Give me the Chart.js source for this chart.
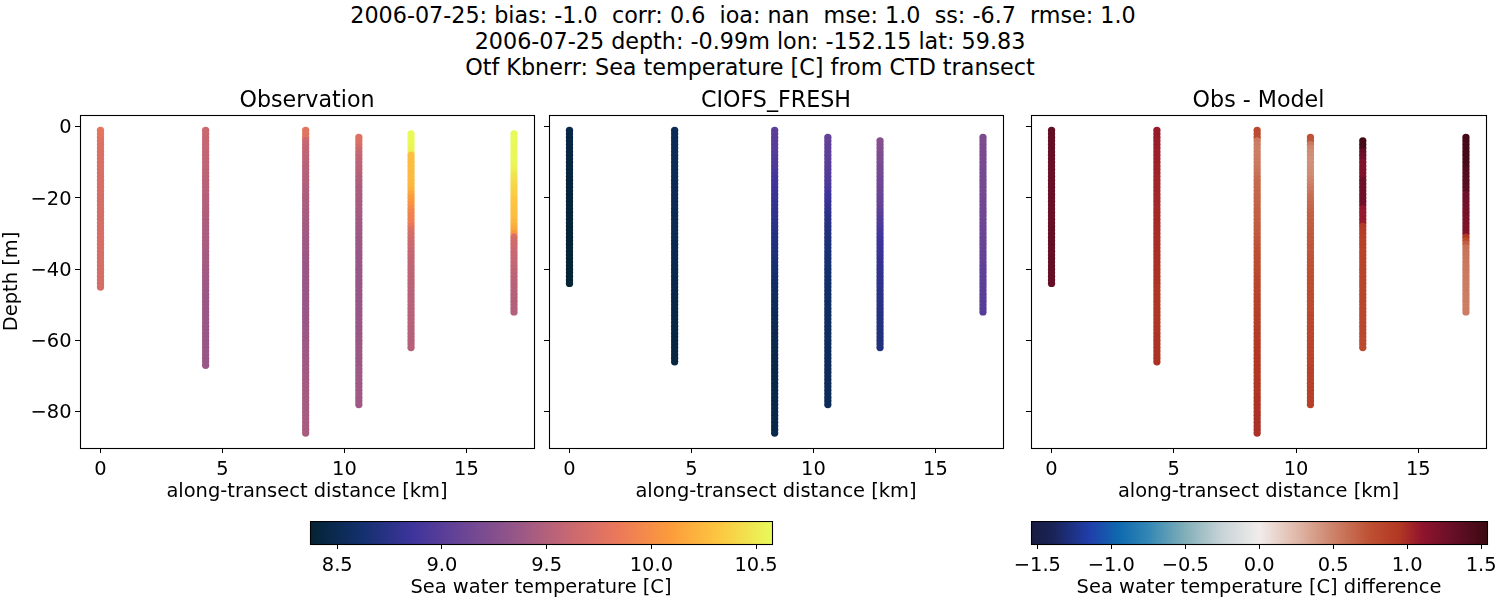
<!DOCTYPE html>
<html><head><meta charset="utf-8">
<script src="https://cdn.jsdelivr.net/npm/chart.js@4/dist/chart.umd.min.js"></script>
<style>
html,body{margin:0;padding:0;background:#fff;width:1500px;height:600px;overflow:hidden}
canvas{position:absolute;display:block}
.line{position:absolute;left:0;width:1500px;text-align:center;font:22.27px "DejaVu Sans";color:#000;white-space:pre;line-height:26px}
</style></head><body>
<div class="line" style="top:2px;left:-7px">2006-07-25: bias: -1.0  corr: 0.6  ioa: nan  mse: 1.0  ss: -6.7  rmse: 1.0</div>
<div class="line" style="top:28px">2006-07-25 depth: -0.99m lon: -152.15 lat: 59.83</div>
<div class="line" style="top:54px">Otf Kbnerr: Sea temperature [C] from CTD transect</div>
<canvas id="c1"></canvas><canvas id="c2"></canvas><canvas id="c3"></canvas><canvas id="c4"></canvas><canvas id="c5"></canvas>
<script>
const panelTitles=["Observation","CIOFS_FRESH","Obs - Model"];
const xAxisLabel="along-transect distance [km]";
const yAxisLabel="Depth [m]";
const tempBarLabel="Sea water temperature [C]";
const diffBarLabel="Sea water temperature [C] difference";
const xTicks=[0,5,10,15];
const yTicks=[0,-20,-40,-60,-80];
const tempTicks=[8.5,9.0,9.5,10.0,10.5];
const diffTicks=[-1.5,-1.0,-0.5,0.0,0.5,1.0,1.5];
const stationKm=[0,4.31,8.41,10.59,12.73,16.95];
const depthLevels=[-1,-2,-3,-4,-5,-6,-7,-8,-9,-10,-11,-12,-13,-14,-15,-16,-17,-18,-19,-20,-21,-22,-23,-24,-25,-26,-27,-28,-29,-30,-31,-32,-33,-34,-35,-36,-37,-38,-39,-40,-41,-42,-43,-44,-45,-46,-47,-48,-49,-50,-51,-52,-53,-54,-55,-56,-57,-58,-59,-60,-61,-62,-63,-64,-65,-66,-67,-68,-69,-70,-71,-72,-73,-74,-75,-76,-77,-78,-79,-80,-81,-82,-83,-84,-85,-86];
const obsFirstLevel=[0,0,0,2,1,1];
const modelFirstLevel=[0,0,0,2,3,2];

const obs0=[9.80,9.80,9.78,9.76,9.75,9.74,9.73,9.73,9.72,9.72,
9.72,9.72,9.72,9.71,9.71,9.71,9.71,9.71,9.71,9.71,
9.70,9.70,9.70,9.70,9.70,9.70,9.70,9.71,9.71,9.71,
9.71,9.71,9.71,9.71,9.71,9.70,9.70,9.70,9.70,9.70,
9.70,9.70,9.70,9.70,9.70];
const obs1=[9.62,9.62,9.61,9.60,9.60,9.59,9.58,9.58,9.57,9.57,
9.56,9.55,9.55,9.54,9.54,9.53,9.53,9.52,9.52,9.51,
9.50,9.50,9.49,9.49,9.48,9.48,9.47,9.47,9.46,9.46,
9.46,9.45,9.45,9.44,9.44,9.43,9.43,9.42,9.42,9.41,
9.41,9.40,9.40,9.39,9.39,9.38,9.38,9.38,9.38,9.37,
9.37,9.37,9.37,9.37,9.36,9.36,9.36,9.36,9.36,9.36,
9.36,9.36,9.36,9.36,9.36,9.36,9.36];
const obs2=[9.78,9.77,9.76,9.62,9.60,9.58,9.57,9.56,9.55,9.54,
9.53,9.52,9.52,9.51,9.50,9.50,9.49,9.48,9.48,9.47,
9.46,9.46,9.45,9.44,9.44,9.43,9.42,9.42,9.41,9.41,
9.40,9.40,9.39,9.39,9.39,9.38,9.38,9.38,9.37,9.37,
9.37,9.37,9.37,9.36,9.36,9.36,9.36,9.36,9.36,9.36,
9.36,9.36,9.37,9.37,9.37,9.37,9.38,9.38,9.38,9.38,
9.39,9.39,9.39,9.40,9.40,9.40,9.40,9.41,9.41,9.41,
9.41,9.42,9.42,9.42,9.42,9.43,9.43,9.43,9.43,9.43,
9.44,9.44,9.44,9.44,9.44,9.44];
const obs3=[9.74,9.74,9.72,9.66,9.62,9.60,9.58,9.56,9.55,9.54,
9.52,9.50,9.49,9.48,9.47,9.46,9.45,9.45,9.44,9.44,
9.43,9.43,9.42,9.41,9.41,9.40,9.40,9.39,9.39,9.38,
9.38,9.38,9.37,9.37,9.37,9.37,9.37,9.36,9.36,9.36,
9.36,9.36,9.36,9.36,9.36,9.36,9.36,9.36,9.36,9.36,
9.37,9.37,9.37,9.37,9.37,9.37,9.37,9.38,9.38,9.38,
9.38,9.38,9.38,9.38,9.38,9.39,9.39,9.39,9.39,9.39,
9.39,9.40,9.40,9.40,9.40,9.40];
const obs4=[10.57,10.57,10.56,10.56,10.55,10.54,10.28,10.27,10.27,10.27,
10.27,10.26,10.26,10.26,10.25,10.24,10.20,10.14,10.10,10.07,
10.03,9.98,9.94,9.92,9.90,9.88,9.82,9.74,9.70,9.68,
9.66,9.63,9.62,9.60,9.59,9.58,9.57,9.57,9.56,9.56,
9.55,9.55,9.54,9.54,9.54,9.53,9.53,9.53,9.53,9.52,
9.52,9.52,9.52,9.52,9.52,9.51,9.51,9.51,9.51,9.51,
9.51];
const obs5=[10.57,10.57,10.57,10.57,10.56,10.56,10.56,10.56,10.56,10.55,
10.53,10.49,10.46,10.44,10.42,10.40,10.38,10.36,10.34,10.32,
10.31,10.30,10.29,10.28,10.26,10.24,10.20,10.15,10.05,9.72,
9.68,9.66,9.64,9.62,9.61,9.60,9.59,9.58,9.57,9.56,
9.55,9.54,9.53,9.52,9.52,9.51,9.51,9.50,9.50,9.50,
9.50];

const model0=[8.45,8.45,8.44,8.44,8.44,8.43,8.43,8.43,8.43,8.42,
8.42,8.42,8.42,8.42,8.41,8.41,8.41,8.41,8.41,8.41,
8.40,8.40,8.40,8.40,8.40,8.40,8.40,8.40,8.39,8.39,
8.39,8.39,8.39,8.39,8.39,8.39,8.38,8.38,8.38,8.38,
8.38,8.38,8.38,8.38];
const model1=[8.52,8.52,8.52,8.52,8.52,8.52,8.52,8.52,8.52,8.52,
8.52,8.52,8.52,8.52,8.52,8.51,8.51,8.51,8.51,8.51,
8.51,8.51,8.51,8.51,8.50,8.50,8.50,8.50,8.50,8.50,
8.50,8.50,8.49,8.49,8.49,8.49,8.49,8.49,8.48,8.48,
8.48,8.48,8.47,8.47,8.47,8.47,8.46,8.46,8.46,8.46,
8.45,8.45,8.45,8.45,8.44,8.44,8.44,8.44,8.43,8.43,
8.43,8.43,8.43,8.43,8.43,8.42];
const model2=[9.02,9.02,9.01,9.01,9.00,9.00,8.99,8.98,8.97,8.96,
8.95,8.94,8.92,8.90,8.88,8.87,8.86,8.85,8.84,8.83,
8.82,8.81,8.80,8.79,8.78,8.77,8.76,8.75,8.74,8.73,
8.72,8.71,8.70,8.69,8.68,8.67,8.66,8.65,8.64,8.63,
8.62,8.61,8.60,8.59,8.58,8.57,8.56,8.55,8.54,8.53,
8.53,8.52,8.52,8.51,8.51,8.50,8.50,8.49,8.49,8.49,
8.48,8.48,8.48,8.48,8.48,8.47,8.47,8.47,8.47,8.47,
8.47,8.47,8.47,8.47,8.47,8.47,8.47,8.47,8.47,8.47,
8.47,8.47,8.47,8.47,8.47,8.47];
const model3=[9.06,9.06,9.05,9.04,9.04,9.03,9.02,9.01,9.00,8.99,
8.98,8.97,8.96,8.95,8.93,8.91,8.87,8.85,8.83,8.81,
8.79,8.77,8.75,8.74,8.73,8.72,8.71,8.70,8.69,8.68,
8.67,8.66,8.66,8.65,8.64,8.63,8.63,8.62,8.61,8.61,
8.60,8.60,8.59,8.59,8.58,8.58,8.58,8.57,8.57,8.57,
8.56,8.56,8.56,8.56,8.55,8.55,8.55,8.55,8.54,8.54,
8.54,8.54,8.54,8.54,8.53,8.53,8.53,8.53,8.53,8.53,
8.53,8.52,8.52,8.52,8.52,8.52];
const model4=[9.26,9.25,9.24,9.23,9.22,9.21,9.20,9.18,9.17,9.16,
9.15,9.14,9.13,9.12,9.11,9.10,9.09,9.08,9.07,9.05,
9.03,9.01,8.99,8.97,8.95,8.92,8.89,8.87,8.86,8.85,
8.84,8.83,8.83,8.82,8.81,8.81,8.80,8.80,8.79,8.78,
8.78,8.77,8.76,8.75,8.75,8.74,8.74,8.73,8.73,8.72,
8.72,8.71,8.71,8.71,8.70,8.70,8.70,8.70,8.70];
const model5=[9.20,9.20,9.20,9.19,9.19,9.19,9.19,9.18,9.18,9.18,
9.18,9.17,9.17,9.17,9.17,9.16,9.16,9.16,9.15,9.15,
9.14,9.14,9.13,9.13,9.12,9.12,9.11,9.11,9.10,9.10,
9.09,9.09,9.08,9.07,9.06,9.06,9.05,9.05,9.04,9.04,
9.03,9.03,9.02,9.02,9.01,9.01,9.00,8.99,8.99,8.98];

const diff0=[1.34,1.34,1.33,1.32,1.32,1.32,1.32,1.31,1.31,1.31,
1.30,1.30,1.30,1.30,1.30,1.30,1.30,1.30,1.30,1.30,
1.30,1.30,1.30,1.30,1.30,1.30,1.30,1.31,1.32,1.32,
1.32,1.32,1.32,1.32,1.32,1.31,1.32,1.32,1.32,1.32,
1.32,1.32,1.32,1.32];
const diff1=[1.07,1.07,1.07,1.06,1.06,1.06,1.05,1.05,1.05,1.05,
1.04,1.04,1.04,1.03,1.03,1.03,1.03,1.03,1.02,1.02,
1.02,1.02,1.01,1.01,1.01,1.01,1.01,1.00,1.00,1.00,
1.00,0.99,0.99,0.99,0.99,0.98,0.98,0.98,0.98,0.97,
0.97,0.97,0.97,0.97,0.96,0.96,0.96,0.96,0.96,0.96,
0.96,0.96,0.96,0.96,0.96,0.96,0.96,0.96,0.97,0.97,
0.97,0.97,0.97,0.97,0.97,0.97];
const diff2=[0.80,0.79,0.78,0.55,0.53,0.52,0.52,0.52,0.53,0.54,
0.55,0.56,0.58,0.60,0.62,0.63,0.63,0.64,0.64,0.65,
0.65,0.66,0.66,0.67,0.67,0.68,0.68,0.69,0.69,0.70,
0.71,0.72,0.73,0.74,0.75,0.76,0.77,0.78,0.78,0.79,
0.80,0.81,0.82,0.82,0.83,0.84,0.85,0.86,0.87,0.87,
0.88,0.88,0.89,0.89,0.90,0.90,0.91,0.92,0.92,0.92,
0.93,0.93,0.94,0.94,0.94,0.95,0.95,0.95,0.95,0.95,
0.95,0.96,0.96,0.96,0.96,0.97,0.97,0.97,0.97,0.97,
0.98,0.98,0.98,0.98,0.98,0.98];
const diff3=[0.74,0.72,0.54,0.48,0.46,0.45,0.44,0.44,0.44,0.45,
0.45,0.46,0.48,0.50,0.53,0.55,0.58,0.60,0.61,0.63,
0.64,0.66,0.67,0.67,0.68,0.68,0.69,0.69,0.70,0.70,
0.71,0.72,0.71,0.72,0.73,0.74,0.74,0.74,0.75,0.75,
0.76,0.76,0.77,0.77,0.78,0.78,0.78,0.79,0.79,0.79,
0.81,0.81,0.81,0.81,0.82,0.82,0.82,0.83,0.84,0.84,
0.84,0.84,0.84,0.84,0.85,0.86,0.86,0.86,0.86,0.86,
0.86,0.88,0.88,0.88,0.88,0.88];
const diff4=[1.50,1.50,1.48,1.33,1.30,1.26,1.19,1.18,1.18,1.18,
1.18,1.27,1.28,1.28,1.27,1.27,1.26,1.26,1.25,1.09,
1.08,1.08,1.08,1.07,0.93,0.91,0.90,0.88,0.87,0.86,
0.86,0.85,0.85,0.85,0.85,0.84,0.84,0.84,0.84,0.84,
0.83,0.83,0.83,0.83,0.83,0.83,0.83,0.82,0.82,0.82,
0.82,0.81,0.81,0.81,0.81,0.81,0.80,0.80,0.80];
const diff5=[1.50,1.50,1.50,1.50,1.50,1.50,1.50,1.49,1.48,1.43,
1.42,1.41,1.40,1.40,1.39,1.38,1.27,1.27,1.26,1.25,
1.24,1.23,1.23,1.22,1.21,1.20,1.20,1.18,0.95,0.80,
0.68,0.58,0.57,0.57,0.56,0.56,0.55,0.55,0.54,0.54,
0.54,0.53,0.53,0.53,0.52,0.52,0.52,0.52,0.52,0.52];

const tempStopValues=[8.37,8.615,8.86,9.105,9.35,9.596,9.84,10.086,10.33,10.576];
const tempStopColors=[[4,35,51],[19,48,109],[62,52,156],[107,69,150],[150,86,136],[198,103,115],[235,120,90],[252,155,60],[252,200,65],[232,250,91]];
const diffStopValues=[-1.543,-1.4,-1.15,-0.95,-0.75,-0.5,-0.25,0,0.25,0.5,0.75,0.95,1.1,1.3,1.54];
const diffStopColors=[[24,28,67],[26,35,85],[32,62,170],[15,105,175],[50,135,180],[130,175,185],[200,212,215],[241,236,235],[224,185,170],[205,130,105],[190,80,50],[178,55,35],[145,20,45],[105,15,40],[60,9,18]];

const FONT='"DejaVu Sans"';
Chart.defaults.font.family=FONT;
Chart.defaults.color='#000';
Chart.defaults.animation=false;
Chart.defaults.responsive=false;
Chart.defaults.devicePixelRatio=1;

function colorFor(v,vals,cols){
  if(v<=vals[0])return `rgb(${cols[0]})`;
  for(let i=1;i<vals.length;i++){
    if(v<=vals[i]){
      const t=(v-vals[i-1])/(vals[i]-vals[i-1]);
      const c=cols[i-1].map((a,k)=>Math.round(a+(cols[i][k]-a)*t));
      return `rgb(${c})`;
    }
  }
  return `rgb(${cols[cols.length-1]})`;
}
const minus=s=>String(s).replace('-','\u2212');
const frame={id:'frame',afterDatasetsDraw(ch){
  const a=ch.chartArea,c=ch.ctx;c.save();c.strokeStyle='#000';c.lineWidth=1.1;
  c.strokeRect(Math.round(a.left)+.5,Math.round(a.top)+.5,Math.round(a.width),Math.round(a.height));c.restore();
}};
function place(id,l,t,w,h){const e=document.getElementById(id);e.width=w;e.height=h;e.style.left=l+'px';e.style.top=t+'px';return e;}

function panelPoints(series,first,cmapV,cmapC){
  return series.map((vals,s)=>({
    data:vals.map((v,i)=>({x:stationKm[s],y:depthLevels[first[s]+i]})),
    backgroundColor:vals.map(v=>colorFor(v,cmapV,cmapC)),
    pointRadius:3.65,pointBorderWidth:0,showLine:false
  }));
}
function panel(id,l,w,sideW,title,series,first,cmapV,cmapC,showY){
  const cv=place(id,l,86,w,418);
  new Chart(cv,{type:'scatter',
    data:{datasets:panelPoints(series,first,cmapV,cmapC)},
    plugins:[frame],
    options:{
      layout:{padding:0},
      plugins:{legend:{display:false},tooltip:{enabled:false},
        title:{display:true,text:title,color:'#000',font:{size:22.2,weight:'normal',family:FONT,lineHeight:1.2},padding:{top:2,bottom:0.33}}},
      scales:{
        x:{type:'linear',min:-0.84,max:17.77,
          afterBuildTicks:s=>{s.ticks=xTicks.map(v=>({value:v}))},
          afterFit:s=>{s.height=56},
          grid:{drawOnChartArea:false,drawTicks:true,tickLength:5,color:'#000',lineWidth:1},
          border:{display:false},
          ticks:{font:{size:19.44,family:FONT},color:'#000',padding:5,maxRotation:0,autoSkip:false,callback:v=>minus(v)},
          title:{display:true,text:xAxisLabel,color:'#000',font:{size:19.44,family:FONT,lineHeight:1.2},padding:0}},
        y:{type:'linear',position:'left',min:-90.2,max:3.3,
          afterBuildTicks:s=>{s.ticks=yTicks.map(v=>({value:v}))},
          afterFit:s=>{s.width=sideW},
          grid:{drawOnChartArea:false,drawTicks:true,tickLength:5,color:'#000',lineWidth:1},
          border:{display:false},
          ticks:{display:showY,font:{size:19.44,family:FONT},color:'#000',padding:3.5,labelOffset:1.5,autoSkip:false,callback:v=>minus(v)},
          title:{display:showY,text:yAxisLabel,color:'#000',font:{size:19.44,family:FONT,lineHeight:1.2},padding:{top:0,bottom:0}}},
        spacer:{type:'linear',position:'right',min:0,max:1,
          afterBuildTicks:s=>{s.ticks=[]},
          afterFit:s=>{s.width=sideW},
          grid:{display:false},border:{display:false},ticks:{display:false}}
      }
    }});
}
const obsSeries=[obs0,obs1,obs2,obs3,obs4,obs5];
const modelSeries=[model0,model1,model2,model3,model4,model5];
const diffSeries=[diff0,diff1,diff2,diff3,diff4,diff5];
panel('c1',0,614,80,panelTitles[0],obsSeries,obsFirstLevel,tempStopValues,tempStopColors,true);
panel('c2',500,552,49,panelTitles[1],modelSeries,modelFirstLevel,tempStopValues,tempStopColors,false);
panel('c3',1017,483,14,panelTitles[2],diffSeries,modelFirstLevel,diffStopValues,diffStopColors,false);

function colorbar(id,l,w,lo,hi,ticks,label,vals,cols){
  const cv=place(id,l,521,w,79);
  new Chart(cv,{type:'bar',
    data:{labels:[label],datasets:[{data:[[lo,hi]],barPercentage:1,categoryPercentage:1,borderWidth:0,
      backgroundColor:ctx=>{
        const ch=ctx.chart,sc=ch.scales.x;
        if(!ch.chartArea||!sc)return '#888';
        const a=sc.getPixelForValue(lo),b=sc.getPixelForValue(hi);
        const g=ch.ctx.createLinearGradient(a,0,b,0);
        vals.forEach((v,i)=>g.addColorStop((v-vals[0])/(vals[vals.length-1]-vals[0]),`rgb(${cols[i]})`));
        return g;
      }}]},
    plugins:[frame],
    options:{indexAxis:'y',
      layout:{padding:{left:40,right:40,top:0,bottom:0}},
      plugins:{legend:{display:false},tooltip:{enabled:false},title:{display:false}},
      scales:{
        y:{display:false,offset:true},
        x:{type:'linear',min:lo,max:hi,
          afterBuildTicks:s=>{s.ticks=ticks.map(v=>({value:v}))},
          afterFit:s=>{s.height=56},
          grid:{drawOnChartArea:false,drawTicks:true,tickLength:5,color:'#000',lineWidth:1},
          border:{display:false},
          ticks:{font:{size:19.44,family:FONT},color:'#000',padding:5,maxRotation:0,autoSkip:false,callback:v=>minus(Number(v).toFixed(1))},
          title:{display:true,text:label,color:'#000',font:{size:19.44,family:FONT,lineHeight:1.2},padding:0}}
      }
    }});
}
colorbar('c4',270,542,8.37,10.576,tempTicks,tempBarLabel,tempStopValues,tempStopColors);
colorbar('c5',991,536,-1.543,1.54,diffTicks,diffBarLabel,diffStopValues,diffStopColors);
</script>
</body></html>
